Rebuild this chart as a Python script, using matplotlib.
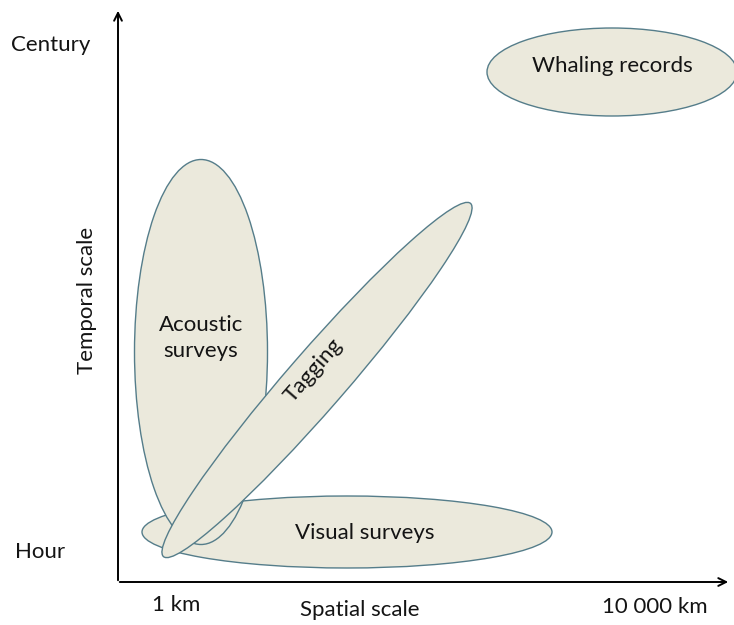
import matplotlib.pyplot as plt
from matplotlib.patches import Ellipse

# Conceptual diagram: coverage of each survey method in space and time
# (units are arbitrary scale positions on the diagram)
methods = ['Visual surveys', 'Acoustic\nsurveys', 'Tagging', 'Whaling records']
centre_x = [347, 201, 317, 612]
centre_y = [93, 273, 245, 553]
widths = [410, 133, 468, 250]
heights = [72, 385, 58, 88]
angles = [0, 0, 49, 0]
label_x = [365, 201, 313, 612]
label_y = [92, 287, 255, 559]
label_rot = [0, 0, 49, 0]

y_ticks = ['Century', 'Hour']
x_ticks = ['1 km', '10 000 km']

fill = '#ebe9dc'
edge = '#557d8a'
txt = '#141414'

plt.rcParams['font.family'] = ['Lato', 'DejaVu Sans']

fig = plt.figure(figsize=(7.34, 6.25), dpi=100)
ax = fig.add_axes([0, 0, 1, 1])
ax.set_xlim(0, 734)
ax.set_ylim(0, 625)
ax.axis('off')

for i in range(len(methods)):
    e = Ellipse((centre_x[i], centre_y[i]), widths[i], heights[i], angle=angles[i],
                facecolor=fill, edgecolor=edge, linewidth=1.0, zorder=2 + i)
    ax.add_patch(e)
    ax.text(label_x[i], label_y[i], methods[i], rotation=label_rot[i],
            ha='center', va='center', fontsize=16, color=txt,
            zorder=10, linespacing=1.4)

# axes arrows
ax.annotate('', xy=(118, 617), xytext=(118, 42),
            arrowprops=dict(arrowstyle='->', color='black', lw=1.4, mutation_scale=14))
ax.annotate('', xy=(731, 43), xytext=(117, 43),
            arrowprops=dict(arrowstyle='->', color='black', lw=1.4, mutation_scale=14))

ax.text(51, 580, y_ticks[0], ha='center', va='center', fontsize=16, color=txt)
ax.text(40, 73, y_ticks[1], ha='center', va='center', fontsize=16, color=txt)
ax.text(176, 20, x_ticks[0], ha='center', va='center', fontsize=16, color=txt)
ax.text(655, 18, x_ticks[1], ha='center', va='center', fontsize=16, color=txt)
ax.text(360, 15, 'Spatial scale', ha='center', va='center', fontsize=16, color=txt)
ax.text(87, 325, 'Temporal scale', ha='center', va='center', rotation=90,
        fontsize=16, color=txt)

fig.savefig('out.png', dpi=100)
